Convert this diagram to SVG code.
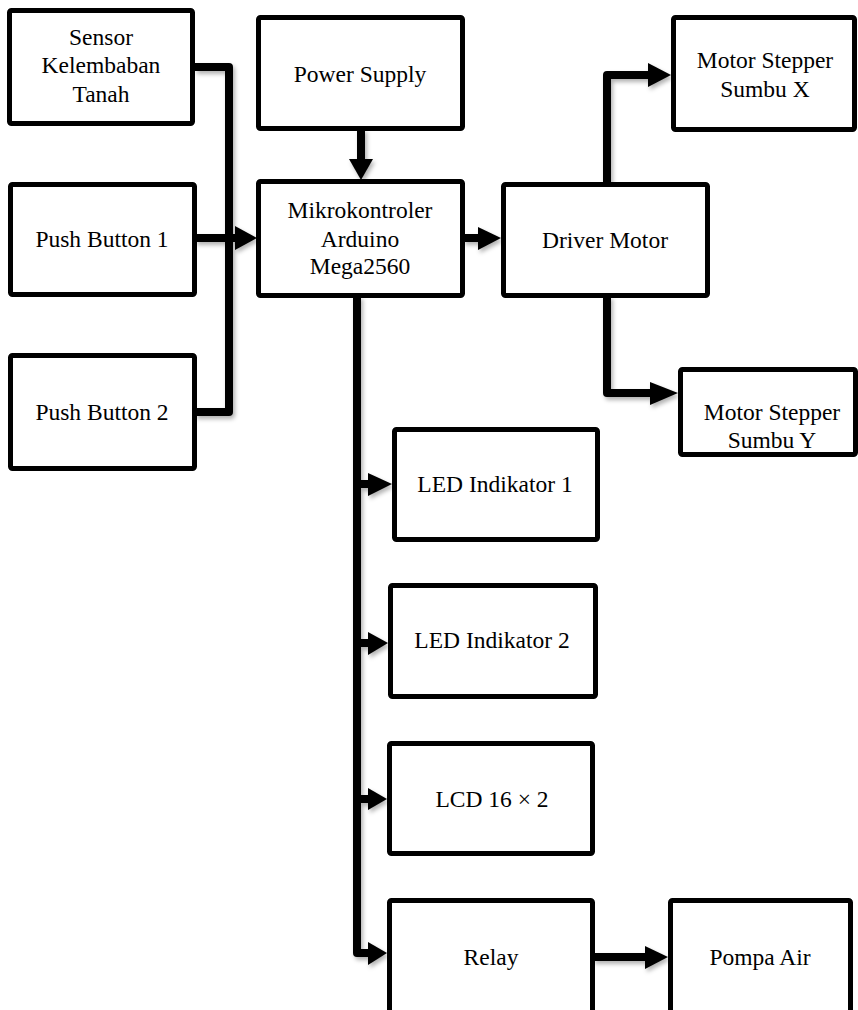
<svg xmlns="http://www.w3.org/2000/svg" width="858" height="1010" viewBox="0 0 858 1010">
<style>
.box{fill:#fff;stroke:#000;stroke-width:5}
.lbl{font-family:"Liberation Serif","DejaVu Serif",serif;font-size:23.5px;fill:#000;text-anchor:middle}
.wire{fill:none;stroke:#000;stroke-width:8;stroke-linejoin:round}
.head{fill:#000}
</style>
<defs>
<filter id="sh" x="-20%" y="-20%" width="140%" height="140%">
<feDropShadow dx="2" dy="3" stdDeviation="2" flood-color="#000" flood-opacity="0.3"/>
</filter>
</defs>
<rect width="858" height="1010" fill="#fff"/>
<g id="connectors" filter="url(#sh)">
<path class="wire" d="M195 67 H229 V412 H195"/>
<path class="wire" d="M195 238 H238"/>
<polygon class="head" points="235,226 257,238 235,250"/>
<path class="wire" d="M361 129 V162"/>
<polygon class="head" points="349,159 373,159 361,180"/>
<path class="wire" d="M463 238 H480"/>
<polygon class="head" points="478,227 501,238 478,250"/>
<path class="wire" d="M607 184 V75 H650"/>
<polygon class="head" points="648,63 671,75 648,87"/>
<path class="wire" d="M607 296 V393 H652"/>
<polygon class="head" points="650,382 678,393 650,405"/>
<path class="wire" d="M357 296 V953 H370"/>
<path class="wire" d="M357 484 H370"/>
<polygon class="head" points="368,473 392,484 368,496"/>
<path class="wire" d="M357 643 H370"/>
<polygon class="head" points="368,632 388,643 368,655"/>
<path class="wire" d="M357 799 H370"/>
<polygon class="head" points="368,788 387,799 368,810"/>
<polygon class="head" points="368,942 387,953 368,965"/>
<path class="wire" d="M593 957 H647"/>
<polygon class="head" points="645,946 668,957 645,969"/>
</g>
<g id="sensor"><rect class="box" x="9.5" y="10.5" width="183" height="113" rx="2"/>
<text class="lbl" x="101" y="45" font-family="Liberation Serif, serif">Sensor</text><text class="lbl" x="101" y="73">Kelembaban</text><text class="lbl" x="101" y="102">Tanah</text></g>
<g id="pb1"><rect class="box" x="10.5" y="184.5" width="184" height="110" rx="2"/>
<text class="lbl" x="102" y="247">Push Button 1</text></g>
<g id="pb2"><rect class="box" x="10.5" y="355.5" width="184" height="113" rx="2"/>
<text class="lbl" x="102" y="420">Push Button 2</text></g>
<g id="power"><rect class="box" x="258.5" y="17.5" width="204" height="111" rx="2"/>
<text class="lbl" x="360" y="82">Power Supply</text></g>
<g id="mikro"><rect class="box" x="258.5" y="181.5" width="204" height="114" rx="2"/>
<text class="lbl" x="360" y="218">Mikrokontroler</text><text class="lbl" x="360" y="247">Arduino</text><text class="lbl" x="360" y="274">Mega2560</text></g>
<g id="driver"><rect class="box" x="503.5" y="184.5" width="204" height="111" rx="2"/>
<text class="lbl" x="605" y="248">Driver Motor</text></g>
<g id="motorx"><rect class="box" x="673.5" y="17.5" width="181" height="112" rx="2"/>
<text class="lbl" x="765" y="68">Motor Stepper</text><text class="lbl" x="765" y="97">Sumbu X</text></g>
<g id="motory"><rect class="box" x="680.5" y="369.5" width="175" height="85" rx="2"/>
<text class="lbl" x="772" y="420">Motor Stepper</text><text class="lbl" x="772" y="448">Sumbu Y</text></g>
<g id="led1"><rect class="box" x="394.5" y="429.5" width="203" height="110" rx="2"/>
<text class="lbl" x="495" y="492">LED Indikator 1</text></g>
<g id="led2"><rect class="box" x="390.5" y="585.5" width="205" height="111" rx="2"/>
<text class="lbl" x="492" y="648">LED Indikator 2</text></g>
<g id="lcd"><rect class="box" x="389.5" y="743.5" width="203" height="110" rx="2"/>
<text class="lbl" x="492" y="807">LCD 16 × 2</text></g>
<g id="relay"><rect class="box" x="389.5" y="900.5" width="203" height="200" rx="2"/>
<text class="lbl" x="491" y="965">Relay</text></g>
<g id="pompa"><rect class="box" x="670.5" y="900.5" width="180" height="200" rx="2"/>
<text class="lbl" x="760" y="965">Pompa Air</text></g>
</svg>
